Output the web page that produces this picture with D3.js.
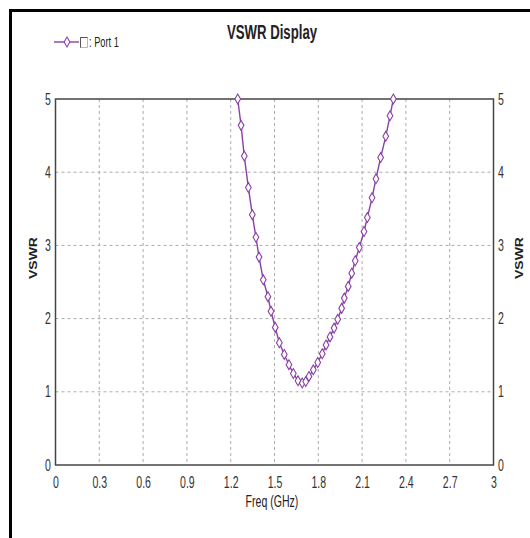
<!DOCTYPE html>
<html>
<head>
<meta charset="utf-8">
<script src="https://cdn.jsdelivr.net/npm/d3@7"></script>
<style>
  body { margin: 0; background: #fff; }
  text { font-family: "Liberation Sans", Arial, sans-serif; fill: #333; }
</style>
</head>
<body>
<svg id="chart" width="530" height="538"></svg>
<script>
// VSWR vs frequency
const freq = [1.248, 1.271, 1.293, 1.321, 1.348, 1.373, 1.394, 1.423, 1.455, 1.476,
              1.505, 1.533, 1.567, 1.599, 1.629, 1.661, 1.690, 1.714, 1.736, 1.766,
              1.796, 1.827, 1.853, 1.880, 1.908, 1.933, 1.960, 1.978, 2.005, 2.029,
              2.053, 2.081, 2.113, 2.136, 2.168, 2.195, 2.227, 2.262, 2.291, 2.314];
const vswr = [5.00, 4.64, 4.22, 3.79, 3.42, 3.11, 2.84, 2.53, 2.30, 2.10,
              1.88, 1.67, 1.51, 1.37, 1.25, 1.15, 1.12, 1.14, 1.21, 1.30,
              1.40, 1.52, 1.64, 1.75, 1.87, 1.99, 2.14, 2.28, 2.44, 2.62,
              2.79, 2.97, 3.19, 3.38, 3.65, 3.91, 4.20, 4.49, 4.77, 5.00];
const xTicks = [0, 0.3, 0.6, 0.9, 1.2, 1.5, 1.8, 2.1, 2.4, 2.7, 3];
const yTicks = [0, 1, 2, 3, 4, 5];
const seriesName = ': Port 1';

const SQUASH = 0.66; // text in the picture is tall and narrow
const LINE = '#8a3fa6';
const plot = { left: 55.5, right: 493.5, top: 99, bottom: 465 };

const svg = d3.select('#chart');
const x = d3.scaleLinear().domain([0, 3]).range([plot.left, plot.right]);
const y = d3.scaleLinear().domain([0, 5]).range([plot.bottom, plot.top]);

function label(px, py, str, size, anchor, bold) {
    return svg.append('text')
        .attr('transform', `translate(${px},${py}) scale(${SQUASH},1)`)
        .attr('text-anchor', anchor)
        .style('font-size', size + 'px')
        .style('font-weight', bold ? 'bold' : 'normal')
        .text(str);
}

// outer frame (left and top edges only are in view)
svg.append('path')
    .attr('d', 'M10.5,538 V10.5 H530')
    .attr('fill', 'none')
    .attr('stroke', '#000')
    .attr('stroke-width', 3);

label(272, 39, 'VSWR Display', 20, 'middle', true).style('fill', '#222');

// legend
const leg = svg.append('g');
leg.append('line')
    .attr('x1', 54).attr('x2', 79).attr('y1', 42).attr('y2', 42)
    .attr('stroke', LINE).attr('stroke-width', 1.4);
leg.append('path')
    .attr('d', d3.symbol(d3.symbolDiamond, 28)())
    .attr('transform', 'translate(67,42)')
    .attr('fill', '#fff').attr('stroke', LINE).attr('stroke-width', 1.1);
leg.append('rect')
    .attr('x', 80.5).attr('y', 37.5).attr('width', 7).attr('height', 10)
    .attr('fill', '#fff').attr('stroke', '#bbb');
leg.append('path')
    .attr('d', 'M80.5,47.5 V37.5 H87.5')
    .attr('fill', 'none').attr('stroke', '#555');
label(89, 47, seriesName, 14, 'start', false).style('fill', '#222');

// grid
const grid = svg.append('g')
    .attr('stroke', '#aaa')
    .attr('stroke-dasharray', '3,3');
grid.selectAll('line.v')
    .data(xTicks.slice(1, -1))
    .join('line')
    .attr('x1', d => x(d)).attr('x2', d => x(d))
    .attr('y1', plot.top).attr('y2', plot.bottom);
grid.selectAll('line.h')
    .data(yTicks.slice(1, -1))
    .join('line')
    .attr('x1', plot.left).attr('x2', plot.right)
    .attr('y1', d => y(d)).attr('y2', d => y(d));

// plot frame
svg.append('rect')
    .attr('x', plot.left).attr('y', plot.top)
    .attr('width', plot.right - plot.left).attr('height', plot.bottom - plot.top)
    .attr('fill', 'none').attr('stroke', '#444').attr('stroke-width', 1.5);

// axes (labels only)
function squashTicks(g) {
    g.select('.domain').remove();
    g.selectAll('text')
        .attr('transform', `scale(${SQUASH},1)`)
        .style('font-size', '16px')
        .attr('fill', '#333');
}
svg.append('g')
    .attr('transform', `translate(0,${plot.bottom})`)
    .call(d3.axisBottom(x).tickValues(xTicks).tickSize(0).tickPadding(12).tickFormat(d3.format('')))
    .call(squashTicks);
svg.append('g')
    .attr('transform', `translate(${plot.left},0)`)
    .call(d3.axisLeft(y).tickValues(yTicks).tickSize(0).tickPadding(7).tickFormat(d3.format('d')))
    .call(squashTicks);
svg.append('g')
    .attr('transform', `translate(${plot.right},0)`)
    .call(d3.axisRight(y).tickValues(yTicks).tickSize(0).tickPadding(7).tickFormat(d3.format('d')))
    .call(squashTicks);

label(272, 507, 'Freq (GHz)', 16, 'middle', false).style('fill', '#222');

// y titles
[[37, 258], [523, 258]].forEach(([px, py]) => {
    svg.append('text')
        .attr('transform', `translate(${px},${py}) rotate(-90) scale(1,${SQUASH + 0.1})`)
        .attr('text-anchor', 'middle')
        .style('font-size', '14px')
        .style('font-weight', 'bold')
        .style('fill', '#222')
        .text('VSWR');
});

// series
const pts = freq.map((f, i) => [f, vswr[i]]);
svg.append('path')
    .datum(pts)
    .attr('fill', 'none')
    .attr('stroke', LINE)
    .attr('stroke-width', 1.4)
    .attr('d', d3.line().x(d => x(d[0])).y(d => y(d[1])));
svg.selectAll('path.mark')
    .data(pts)
    .join('path')
    .attr('class', 'mark')
    .attr('d', d3.symbol(d3.symbolDiamond, 28)())
    .attr('transform', d => `translate(${x(d[0])},${y(d[1])})`)
    .attr('fill', '#fff')
    .attr('stroke', LINE)
    .attr('stroke-width', 1.1);
</script>
</body>
</html>
